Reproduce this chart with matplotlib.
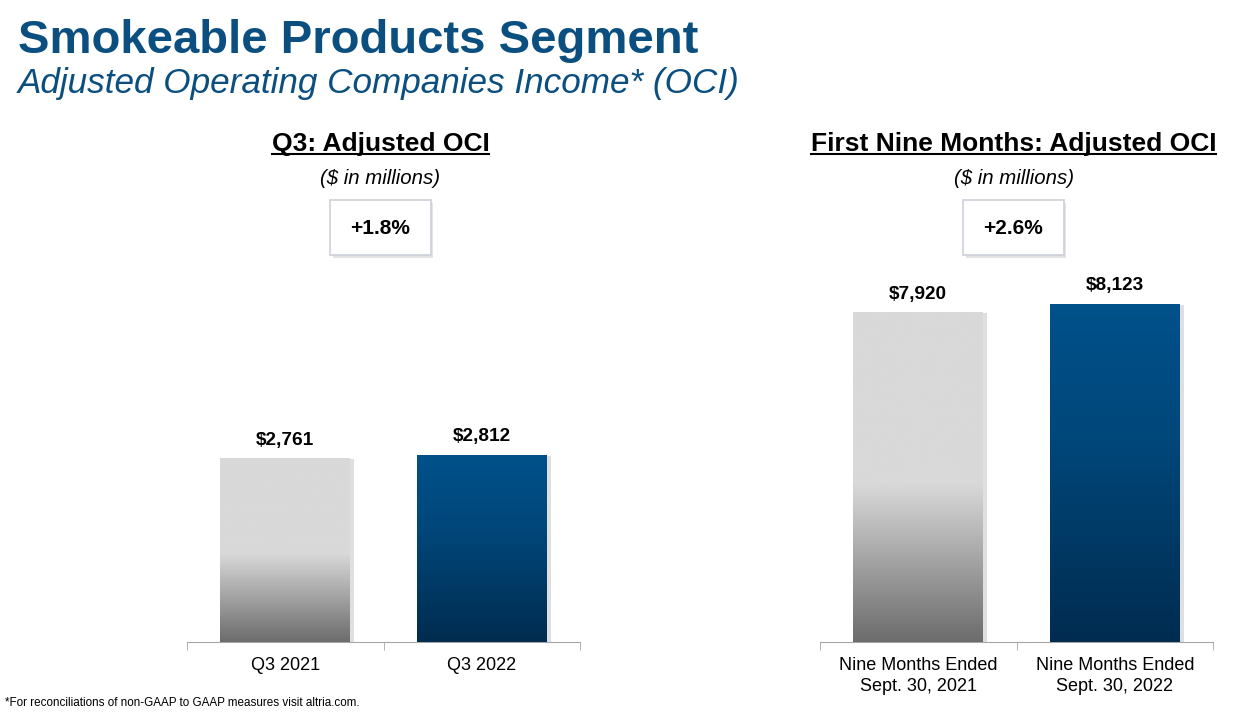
import numpy as np
import matplotlib
matplotlib.use("Agg")
import matplotlib.pyplot as plt
import matplotlib.patheffects as pe
from matplotlib.colors import LinearSegmentedColormap
from matplotlib.patches import FancyBboxPatch
from matplotlib.lines import Line2D

plt.rcParams['font.family'] = ['Liberation Sans', 'DejaVu Sans']

# data
q3_labels = ['Q3 2021', 'Q3 2022']
q3_values = [2761, 2812]
q3_change = '+1.8%'
nine_labels = ['Nine Months Ended\nSept. 30, 2021', 'Nine Months Ended\nSept. 30, 2022']
nine_values = [7920, 8123]
nine_change = '+2.6%'

W, H = 1249, 715
fig = plt.figure(figsize=(W / 100, H / 100), dpi=100)


def fx(x):
    return x / W


def fy(y):
    return 1 - y / H


title_col = '#0b4f80'
fig.text(fx(18), fy(41), 'Smokeable Products Segment', fontsize=34, fontweight='bold',
         color=title_col, ha='left', va='center')
fig.text(fx(18), fy(84), 'Adjusted Operating Companies Income* (OCI)', fontsize=25.3,
         style='italic', color=title_col, ha='left', va='center')
fig.text(fx(5), fy(703), '*For reconciliations of non-GAAP to GAAP measures visit altria.com.',
         fontsize=8.4, ha='left', va='center')

gray_cmap = LinearSegmentedColormap.from_list(
    'g', [(0, '#6c6c6c'), (0.48, '#d9d9d9'), (1, '#d9d9d9')])
blue_cmap = LinearSegmentedColormap.from_list(
    'b', [(0, '#002c50'), (0.6, '#00477a'), (1, '#00518b')])


def panel(left_px, ymax, labels, values, header, change):
    ax = fig.add_axes([fx(left_px), fy(642), fx(393), 392 / H])
    x = np.arange(len(values))
    bars = ax.bar(x, values, width=0.66, color=['#d9d9d9', '#00518b'], zorder=2,
                  path_effects=[pe.SimplePatchShadow(offset=(3, -1), alpha=0.25,
                                                     shadow_rgbFace='#808080'),
                                pe.Normal()])
    grad = np.linspace(0, 1, 256).reshape(-1, 1)
    for b, cm in zip(bars, [gray_cmap, blue_cmap]):
        im = ax.imshow(grad, cmap=cm, aspect='auto', origin='lower',
                       extent=[b.get_x(), b.get_x() + b.get_width(), 0, b.get_height()],
                       zorder=3)
        im.set_clip_path(b)
        ax.text(b.get_x() + b.get_width() / 2, b.get_height() + ymax * 0.024,
                f'${b.get_height():,.0f}', ha='center', va='bottom',
                fontsize=13.7, fontweight='bold')
    ax.set_xlim(-0.5, len(values) - 0.5)
    ax.set_ylim(0, ymax)
    for s in ['top', 'right', 'left']:
        ax.spines[s].set_visible(False)
    ax.spines['bottom'].set_color('#a6a6a6')
    ax.set_yticks([])
    ax.set_xticks(x)
    ax.set_xticklabels(labels, fontsize=13, linespacing=1.3)
    ax.tick_params(axis='x', which='major', length=0, pad=11)
    ax.set_xticks(np.arange(len(values) + 1) - 0.5, minor=True)
    ax.tick_params(axis='x', which='minor', length=6, color='#a6a6a6')

    cx = left_px + 393 / 2 - 3
    t = fig.text(fx(cx), fy(144), header, fontsize=19, fontweight='bold',
                 ha='center', va='center')
    fig.text(fx(cx), fy(179), '($ in millions)', fontsize=14.7, style='italic',
             ha='center', va='center')
    box = FancyBboxPatch((fx(cx - 50), fy(255)), fx(100), 55 / H,
                         boxstyle='square,pad=0', transform=fig.transFigure,
                         facecolor='white', edgecolor='#cdd1d8', linewidth=1.2,
                         path_effects=[pe.SimplePatchShadow(offset=(2, -2), alpha=0.15),
                                       pe.Normal()])
    fig.add_artist(box)
    fig.text(fx(cx), fy(228), change, fontsize=15, fontweight='bold',
             ha='center', va='center')
    return t


headers = [panel(187, 5882, q3_labels, q3_values, 'Q3: Adjusted OCI', q3_change),
           panel(820, 9408, nine_labels, nine_values, 'First Nine Months: Adjusted OCI',
                 nine_change)]

fig.canvas.draw()
inv = fig.transFigure.inverted()
for t in headers:
    bb = t.get_window_extent()
    (x0, y0), (x1, _) = inv.transform([(bb.x0, bb.y0), (bb.x1, bb.y1)])
    fig.add_artist(Line2D([x0, x1], [y0 + 0.003, y0 + 0.003], color='black',
                          linewidth=1.5, transform=fig.transFigure))

fig.savefig('out.png', dpi=100)
